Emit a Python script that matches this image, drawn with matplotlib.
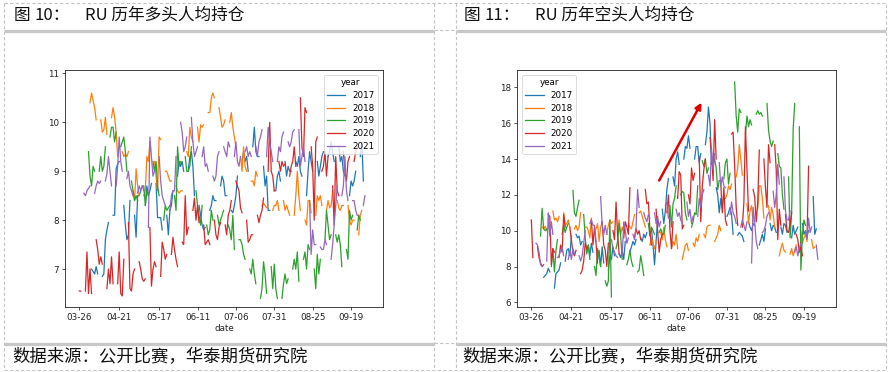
import numpy as np
import pandas as pd
import matplotlib
matplotlib.use("Agg")
import matplotlib.pyplot as plt

plt.rcParams['font.family'] = ['DejaVu Sans']
CJK = ['Noto Sans CJK SC', 'DejaVu Sans']

years = [2017, 2018, 2019, 2020, 2021]
start_dates = ['04-03', '04-02', '04-01', '03-26', '03-26']
tick_labels = ['03-26', '04-21', '05-17', '06-11', '07-06', '07-31', '08-25', '09-19']
colors = ['#1f77b4', '#ff7f0e', '#2ca02c', '#d62728', '#9467bd']

# ---- long positions per capita (left) ----
long_2017 = [7.0, 6.95, 6.9, 7.05, 6.9, 6.85, 6.9, 7.6, 7.8, 7.95, 8.1, 8.1, 9.05, 9.15, 9.2,
             8.3, 7.9, 7.6, 7.7, 8.4, 8.1, 7.65, 8.5, 8.5, 8.6, 8.3, 8.7, 8.5, 8.6, 8.75,
             8.75, 8.05, 8.05, 8.05, 7.8, 8.1, 7.7, 8.2, 8.3, 8.6, 8.9, 9.2, 9.1, 9.2, 9.0,
             9.0, 9.3, 9.4, 9.1, 8.5, 8.3, 8.1, 7.9, 7.8, 7.85, 8.2, 8.3, 8.5, 8.4, 8.4,
             8.7, 8.9, 8.8, 8.5, 8.5, 8.2, 8.15, 8.3, 8.5, 8.9, 9.2, 9.4, 9.2, 9.3, 9.0,
             9.5, 9.9, 9.4, 9.3, 9.3, 9.1, 8.7, 8.9, 8.2, 8.2, 8.6, 8.6, 8.9, 9.0, 8.8,
             9.2, 8.9, 9.1, 9.0, 9.0, 9.2, 9.1, 9.3, 9.0, 8.9, 8.5, 9.0, 9.4, 9.2, 9.0,
             9.2, 8.9, 9.1, 9.3, 9.4, 9.3, 9.4, 9.6, 9.4, 9.2, 9.5, 9.2, 9.3, 9.0, 8.9,
             8.5, 8.8, 8.7, 8.8, 9.0, 9.3, 9.6, 8.8]
long_2018 = [10.4, 10.6, 10.45, 10.3, 10.05, 10.05, 9.8, 9.85, 10.1, 9.75, 10.1, 10.3, 10.1, 9.8, 9.3,
             9.4, 9.3, 9.35, 9.3, 9.4, 8.6, 8.4, 9.05, 8.7, 8.5, 8.5, 8.6, 9.3, 9.2, 9.6,
             9.2, 8.9, 8.6, 9.7, 9.65, 9.0, 9.0, 8.9, 8.8, 8.8, 8.7, 8.6, 8.55, 8.6, 8.6,
             9.4, 9.3, 9.9, 9.7, 9.6, 9.9, 9.6, 9.95, 9.9, 9.95, 10.2, 10.2, 10.5, 10.6, 10.5,
             10.3, 10.1, 9.9, 9.95, 10.05, 10.0, 10.2, 9.9, 9.7, 9.5, 9.3, 9.0, 9.5, 9.1, 9.0,
             8.8, 8.8, 8.7, 9.0, 8.9, 8.3, 8.35, 8.3, 8.25, 8.3, 8.2, 8.3, 8.3, 8.4, 8.2,
             8.4, 8.2, 8.3, 8.2, 8.1, 8.1, 8.5, 9.0, 8.5, 8.2, 8.0, 7.9, 8.4, 8.4, 8.15,
             8.1, 8.5, 8.4, 8.5, 8.3, 8.2, 8.4, 8.25, 8.3, 8.6, 8.4, 8.25, 8.2, 8.3, 8.3,
             8.3, 8.0, 7.9, 8.0, 8.0, 7.7, 8.1, 8.2]
long_2019 = [9.4, 8.9, 8.7, 9.1, 9.0, 9.0, 9.3, 9.0, 9.1, 9.5, 9.7, 9.9, 9.9, 9.6, 9.8,
             9.5, 9.6, 9.7, 9.4, 9.0, 8.8, 8.6, 8.4, 8.5, 8.4, 8.7, 8.7, 8.3, 8.6, 8.5,
             9.2, 9.0, 9.2, 8.7, 8.5, 8.0, 8.3, 8.2, 8.25, 8.3, 8.5, 8.2, 9.5, 9.1, 9.2,
             9.3, 9.0, 9.0, 9.1, 9.5, 8.6, 8.3, 8.1, 7.9, 8.3, 7.9, 7.7, 7.8, 8.2, 8.0,
             8.1, 7.9, 8.0, 8.1, 8.2, 7.9, 7.8, 7.6, 8.1, 7.4, 7.6, 7.6, 7.5, 7.3, 7.2,
             7.0, 6.9, 7.2, 6.9, 6.7, 6.4, 6.6, 7.15, 6.9, 6.5, 7.05, 6.6, 7.1, 6.6, 6.4,
             6.4, 6.7, 6.9, 6.7, 6.8, 7.0, 7.2, 7.0, 7.35, 6.75, 7.2, 7.35, 7.0, 7.5, 7.4,
             7.0, 6.6, 7.3, 6.9, 7.2, 7.6, 8.2, 7.9, 7.6, 7.7, 7.7, 7.55, 7.7, 7.5, 7.05,
             7.4, 7.2, 8.2, 8.0, 8.1, 7.8, 8.1, 8.0]
long_2020 = [6.55, 6.55, 6.55, 7.35, 6.5, 7.0, 6.5, 7.6, 7.4, 7.1, 7.25, 7.1, 6.6, 7.0, 6.7,
             7.25, 6.7, 6.7, 7.35, 6.5, 6.45, 7.2, 7.95, 6.6, 6.55, 6.9, 7.0, 7.15, 7.0, 6.8,
             6.75, 6.8, 7.85, 6.65, 7.0, 7.15, 7.05, 6.85, 7.55, 7.4, 7.2, 7.3, 7.3, 7.65, 7.4,
             7.2, 7.05, 7.55, 7.5, 8.5, 7.7, 7.85, 8.2, 8.45, 8.0, 8.3, 7.95, 7.9, 7.5, 7.55,
             7.6, 7.5, 8.0, 7.7, 7.6, 7.85, 7.95, 7.9, 7.7, 8.1, 8.2, 8.4, 8.8, 8.7, 8.6,
             8.25, 8.15, 8.0, 7.55, 7.6, 7.7, 7.7, 8.1, 7.95, 8.1, 8.2, 8.45, 9.0, 10.0, 9.0,
             8.9, 8.6, 9.2, 9.0, 9.2, 9.1, 9.15, 8.9, 9.1, 9.2, 9.5, 9.1, 10.5, 9.5, 9.3,
             10.3, 10.2, 9.5, 9.1, 8.0, 9.6, 9.7, 9.0, 9.1, 9.4, 8.9, 9.3, 8.7, 7.9, 9.3,
             8.6, 8.5, 9.4, 9.0, 8.8, 9.2, 9.3, 9.2, 9.4, 9.5]
long_2021 = [8.5, 8.55, 8.5, 8.6, 8.65, 8.7, 8.55, 8.7, 8.8, 8.75, 8.8, 8.8, 8.95, 9.3, 9.0,
             8.7, 8.7, 9.1, 9.7, 9.2, 9.0, 8.85, 9.0, 8.7, 8.6, 8.5, 8.55, 8.7, 8.6, 8.7,
             8.6, 7.85, 9.7, 9.3, 8.9, 9.0, 9.3, 8.8, 8.5, 8.4, 8.3, 8.2, 8.5, 8.6, 8.6,
             9.3, 10.0, 9.8, 9.4, 9.5, 9.7, 10.1, 9.6, 9.3, 9.4, 9.5, 9.3, 9.5, 9.1, 9.15,
             9.0, 8.9, 8.8, 8.9, 9.3, 9.4, 9.5, 9.4, 9.3, 9.6, 9.5, 9.3, 9.6, 9.2, 9.1,
             9.3, 9.4, 9.5, 9.3, 9.4, 9.3, 9.5, 9.3, 9.6, 9.7, 9.85, 9.3, 9.9, 9.6, 9.4,
             9.2, 9.2, 9.5, 9.4, 9.7, 9.8, 9.6, 9.5, 9.6, 9.8, 9.85, 9.85, 9.1, 9.3, 9.5,
             9.2, 8.4, 7.3, 7.8, 7.5, 7.5, 7.45, 7.4, 7.4, 7.6, 7.5, 7.2, 7.5, 7.9, 8.3,
             8.7, 8.5, 8.7, 9.3, 8.6, 8.4, 8.4, 8.4, 8.2, 8.1, 8.1, 8.3, 8.5]

# ---- short positions per capita (right) ----
short_2017 = [7.4, 7.5, 7.6, 7.9, 7.7, 6.8, 7.6, 7.7, 7.8, 8.2, 8.3, 8.9, 9.0, 8.6, 9.7,
              9.8, 9.6, 9.7, 9.2, 9.4, 8.9, 9.2, 8.6, 9.3, 8.8, 8.4, 8.9, 8.0, 9.1, 8.2,
              7.8, 8.6, 8.4, 9.1, 8.6, 8.7, 8.5, 8.9, 8.4, 9.4, 8.8, 9.1, 9.4, 9.2, 9.5,
              9.6, 9.4, 9.8, 9.6, 9.9, 10.1, 9.2, 8.1, 9.4, 10.6, 11.2, 10.4, 11.1, 12.3, 12.9,
              13.0, 12.5, 14.0, 14.4, 13.7, 14.0, 14.7, 14.6, 15.3, 14.6, 14.0, 14.7, 14.7, 13.8, 14.3,
              14.8, 15.5, 16.9, 16.0, 13.7, 12.4, 12.0, 11.0, 11.8, 11.2, 10.8, 11.0, 11.3, 10.9, 9.8,
              9.75, 9.9, 9.8, 9.7, 9.4, 10.5, 10.2, 10.0, 10.4, 10.3, 9.2, 9.5, 9.8, 9.4, 10.1,
              10.4, 10.0, 10.3, 10.2, 9.9, 10.2, 9.8, 10.4, 10.3, 9.9, 9.6, 10.3, 9.8, 10.0, 10.2,
              10.4, 9.8, 10.0, 9.7, 10.0, 11.9, 9.8, 10.1]
short_2018 = [10.2, 10.1, 10.25, 10.0, 10.2, 11.1, 10.6, 10.7, 10.5, 10.8, 11.0, 10.3, 10.4, 10.6, 10.2,
              10.1, 10.3, 10.0, 10.2, 11.0, 10.2, 10.2, 10.0, 9.6, 10.7, 10.1, 10.4, 9.4, 10.2, 10.5,
              9.8, 10.3, 10.6, 10.4, 10.5, 10.0, 10.6, 9.8, 10.2, 9.9, 10.4, 10.2, 10.1, 10.5, 10.9,
              11.0, 11.1, 10.8, 10.5, 10.2, 9.2, 9.6, 9.3, 9.0, 9.4, 9.9, 9.5, 10.2, 9.5, 9.1,
              9.0, 9.4, 9.2, 9.8, 9.0, 8.4, 8.8, 9.2, 9.3, 8.9, 9.3, 9.1, 9.6, 9.4, 9.8,
              9.8, 9.6, 10.2, 10.3, 10.3, 9.4, 9.6, 9.8, 10.3, 10.0, 11.8, 12.0, 12.5, 12.3, 12.6,
              13.0, 13.5, 14.8, 14.0, 13.1, 11.5, 10.4, 11.1, 11.4, 10.5, 11.2, 12.5, 12.5, 11.8, 10.7,
              11.4, 10.6, 11.3, 10.9, 10.2, 8.6, 9.0, 9.3, 8.9, 8.8, 8.7, 9.0, 8.6, 8.9, 9.2,
              10.0, 9.3, 9.6, 9.8, 9.4, 9.5, 9.0, 9.1]
short_2019 = [9.7, 11.25, 10.1, 10.0, 10.1, 8.0, 9.0, 7.7, 8.9, 9.5, 9.8, 10.3, 9.9, 10.2, 10.4,
              12.25, 11.0, 10.8, 11.3, 11.7, 10.9, 9.6, 8.7, 9.2, 8.4, 8.0, 7.5, 9.0, 8.5, 8.0,
              7.2, 6.9, 7.2, 10.6, 6.3, 9.0, 9.4, 10.4, 9.7, 8.4, 8.1, 8.4, 8.9, 8.3, 8.0,
              7.7, 7.8, 8.6, 8.1, 7.5, 10.4, 9.7, 10.2, 10.0, 9.8, 9.9, 10.1, 9.8, 9.8, 10.3,
              11.4, 10.2, 11.5, 11.8, 12.5, 12.0, 12.2, 12.1, 11.0, 10.6, 10.2, 10.5, 11.0, 10.9, 12.5,
              13.9, 13.6, 14.0, 13.2, 13.5, 13.7, 14.0, 13.5, 12.3, 12.8, 12.9, 13.8, 14.0, 12.6, 13.2,
              18.3, 16.4, 15.5, 16.8, 16.6, 15.4, 16.4, 15.8, 16.2, 15.9, 16.5, 16.7, 16.5, 16.6, 16.4,
              17.1, 15.6, 15.0, 14.7, 15.0, 14.3, 13.6, 13.5, 12.0, 11.2, 13.0, 9.6, 11.0, 15.7, 17.1,
              15.8, 7.8, 9.8, 10.6, 10.3]
short_2020 = [10.6, 8.5, 9.1, 8.5, 8.2, 8.0, 8.1, 10.9, 10.8, 8.1, 9.0, 8.8, 8.5, 9.2, 8.8,
              10.9, 10.2, 10.2, 9.5, 8.8, 8.6, 8.9, 7.6, 7.8, 8.3, 9.3, 9.0, 10.6, 9.2, 10.2,
              9.3, 8.2, 10.5, 9.2, 8.9, 8.0, 9.3, 10.0, 9.5, 11.6, 9.8, 8.7, 9.6, 10.5, 10.2,
              9.8, 12.4, 9.6, 10.1, 9.8, 10.0, 9.5, 12.3, 11.5, 11.6, 10.0, 9.2, 11.2, 10.0, 8.8,
              9.5, 9.8, 11.0, 12.0, 10.0, 9.0, 10.5, 11.8, 13.3, 13.1, 10.1, 10.3, 12.0, 11.5, 13.5,
              12.8, 13.2, 14.1, 10.5, 12.5, 13.4, 14.0, 15.2, 14.3, 12.8, 16.2, 14.0, 12.6, 11.0, 12.4,
              10.6, 10.3, 15.4, 15.5, 13.6, 11.3, 10.3, 10.2, 11.6, 15.8, 13.5, 11.1, 12.3, 11.9, 10.5,
              11.6, 14.5, 14.0, 12.4, 11.3, 14.8, 13.8, 14.8, 13.4, 9.5, 11.2, 10.3, 10.9, 10.0, 9.9,
              10.4, 11.0, 9.8, 9.5, 8.8, 9.1, 8.6, 9.6, 13.6]
short_2021 = [8.6, 9.3, 9.2, 8.8, 8.1, 8.0, 8.3, 11.0, 9.7, 10.5, 9.8, 8.5, 8.6, 8.9, 9.1,
              8.6, 8.4, 8.9, 8.4, 9.0, 8.7, 8.6, 8.3, 8.6, 9.3, 10.0, 10.4, 10.6, 10.3, 10.3,
              9.4, 11.9, 10.3, 9.8, 10.3, 9.8, 9.5, 9.0, 8.8, 8.6, 8.5, 8.6, 10.5, 10.0, 9.3,
              9.6, 9.8, 9.5, 10.2, 12.3, 11.3, 11.0, 10.7, 10.5, 10.9, 10.7, 11.0, 10.4, 10.8, 10.2,
              10.5, 11.4, 11.6, 10.7, 10.7, 10.5, 11.2, 10.8, 11.0, 10.6, 10.4, 11.6, 10.8, 11.2, 10.4,
              10.8, 10.8, 11.8, 11.3, 12.0, 12.3, 13.1, 12.5, 14.6, 13.4, 14.3, 13.8, 12.5, 13.0, 12.5,
              12.4, 10.9, 11.6, 11.0, 10.8, 10.4, 10.2, 10.6, 10.3, 10.0, 10.5, 8.2, 11.3, 10.5, 9.4,
              9.0, 9.9, 10.0, 10.3, 10.8, 11.0, 12.2, 11.3, 12.0, 13.7, 12.6, 13.0, 11.1, 10.6, 10.6,
              11.1, 8.8, 9.1, 8.6, 9.0, 9.3, 10.0, 9.5, 10.7, 9.9, 10.2, 9.2, 8.4]

long_data = [long_2017, long_2018, long_2019, long_2020, long_2021]
short_data = [short_2017, short_2018, short_2019, short_2020, short_2021]

title_parts = [('图', '10：', 'RU 历年多头人均持仓'), ('图', '11：', 'RU 历年空头人均持仓')]
source = '数据来源：公开比赛，华泰期货研究院'

# arrow on right chart (days since 03-26, value)
arrow_tail = (83.0, 12.8)
arrow_head = (110.5, 17.15)


def to_series(year, start, values):
    d = pd.bdate_range(f'{year}-{start}', periods=len(values))
    pos = (d - pd.Timestamp(f'{year}-03-26')).days
    s = pd.Series(values, index=pos, dtype=float)
    return s.reindex(np.arange(0, pos.max() + 1))


W, H = 889, 372
fig = plt.figure(figsize=(W / 100, H / 100), dpi=100)
fig.patch.set_facecolor('white')

# overlay for document frame
ov = fig.add_axes([0, 0, 1, 1])
ov.set_xlim(0, W)
ov.set_ylim(H, 0)
ov.axis('off')
dash = dict(color='#c4c4c4', lw=0.8, ls=(0, (3, 2)))
ov.plot([3.5, 885.5, 885.5, 3.5, 3.5], [2.5, 2.5, 369.5, 369.5, 2.5], **dash)
for xv in (433.5, 455.5):
    ov.plot([xv, xv], [2.5, 369.5], **dash)
for yv in (29.5, 343.0):
    ov.plot([433.5, 455.5], [yv, yv], **dash)
bar = dict(color='#c8c8c8', lw=2.3, solid_capstyle='butt')
for (xa, xb) in ((3.5, 433.5), (455.5, 885.5)):
    ov.plot([xa, xb], [30.5, 30.5], **bar)
    ov.plot([xa, xb], [343.5, 343.5], **bar)

tfont = dict(family=CJK, fontsize=12, va='center', ha='left', color='#111111')
for x0, parts in ((14, title_parts[0]), (464, title_parts[1])):
    ov.text(x0, 15.5, parts[0], **tfont)
    ov.text(x0 + 21, 15.5, parts[1], **tfont)
    ov.text(x0 + 71, 15.5, parts[2], **tfont)
ov.text(12, 357, source, family=CJK, fontsize=12.5, va='center', ha='left', color='#111111')
ov.text(462, 357, source, family=CJK, fontsize=12.5, va='center', ha='left', color='#111111')

tick_pos = [(pd.Timestamp('2001-' + t) - pd.Timestamp('2001-03-26')).days for t in tick_labels]


def make_ax(x0, x1, y0, y1):
    return fig.add_axes([x0 / W, 1 - y1 / H, (x1 - x0) / W, (y1 - y0) / H])


axL = make_ax(65, 383, 70, 307)
axR = make_ax(517, 836, 70, 307)

FS = 6.3
for ax, data, ylim, loc in ((axL, long_data, (6.224, 11.07), 'upper right'),
                            (axR, short_data, (5.74, 18.97), 'upper left')):
    for y, st, vals, c in zip(years, start_dates, data, colors):
        s = to_series(y, st, vals)
        ax.plot(s.index, s.values, color=c, lw=0.9, label=str(y))
    ax.set_xlim(-9.3, 197.8)
    ax.set_ylim(*ylim)
    ax.set_xticks(tick_pos)
    ax.set_xticklabels(tick_labels)
    ax.tick_params(labelsize=FS, length=2.3, width=0.55, pad=2, colors='#222222')
    for sp in ax.spines.values():
        sp.set_linewidth(0.6)
        sp.set_color('#222222')
    ax.set_xlabel('date', fontsize=FS, labelpad=1.5, color='#222222')
    leg = ax.legend(title='year', loc=loc, fontsize=FS, title_fontsize=FS,
                    handlelength=2.1, borderaxespad=0.55, labelspacing=0.42,
                    framealpha=0.8, edgecolor='#cccccc', fancybox=True)
    leg.get_frame().set_linewidth(0.6)

axR.set_yticks([6, 8, 10, 12, 14, 16, 18])
axL.set_yticks([7, 8, 9, 10, 11])

axR.annotate('', xy=arrow_head, xytext=arrow_tail,
             arrowprops=dict(arrowstyle='-|>', color='#e00000', lw=1.8,
                             mutation_scale=9, shrinkA=0, shrinkB=0))

fig.savefig('out.png', dpi=100, facecolor='white')
